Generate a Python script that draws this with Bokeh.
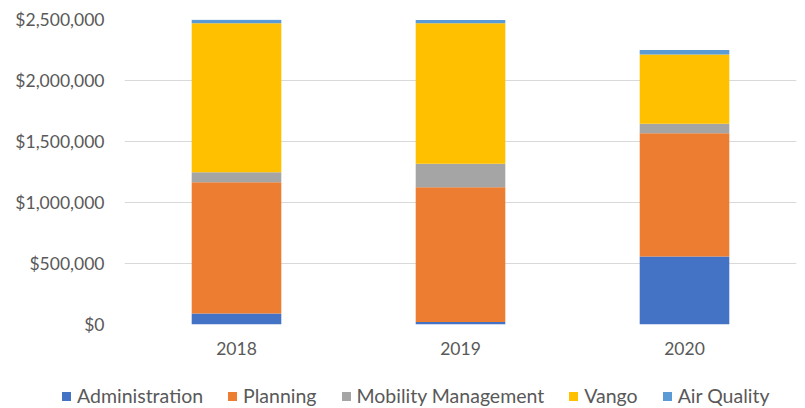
from bokeh.plotting import figure
from bokeh.layouts import column
from bokeh.models import Range1d, FactorRange, NumeralTickFormatter, FixedTicker, Div
from bokeh.embed import file_html
from bokeh.resources import INLINE

years = ["2018", "2019", "2020"]
series = ["Administration", "Planning", "Mobility Management", "Vango", "Air Quality"]
administration = [90000, 20000, 557000]
planning = [1076000, 1105000, 1011000]
mobility = [82000, 192000, 77000]
vango = [1222000, 1153000, 568000]
air_quality = [28000, 25000, 37000]
colors = ["#4472C4", "#ED7D31", "#A5A5A5", "#FFC000", "#5B9BD5"]
y_ticks = [0, 500000, 1000000, 1500000, 2000000, 2500000]

FONT = "Lato"
TXT = "#595959"
FS = "17.5px"

data = dict(years=years)
keys = ["administration", "planning", "mobility", "vango", "air_quality"]
for k, v in zip(keys, [administration, planning, mobility, vango, air_quality]):
    data[k] = v

p = figure(frame_width=672, frame_height=305, x_range=FactorRange(*years, range_padding=0),
           y_range=Range1d(0, 2500000), output_backend="svg", toolbar_location=None,
           min_border_left=124, min_border_right=1, min_border_top=19, min_border_bottom=60)
p.outline_line_color = None

renderers = p.vbar_stack(keys, x="years", width=0.4, color=colors, source=data, line_color=None)

p.yaxis.ticker = FixedTicker(ticks=y_ticks)
p.yaxis.formatter = NumeralTickFormatter(format="$0,0")
for ax in (p.xaxis, p.yaxis):
    ax.axis_line_color = None
    ax.major_tick_line_color = None
    ax.minor_tick_line_color = None
    ax.major_tick_out = 0
    ax.major_tick_in = 0
    ax.major_label_text_font = FONT
    ax.major_label_text_font_size = FS
    ax.major_label_text_color = TXT
p.yaxis.major_label_standoff = 20
p.xaxis.major_label_standoff = 17
p.xgrid.grid_line_color = None
p.ygrid.grid_line_color = "#D9D9D9"
p.ygrid.grid_line_width = 1

# legend strip below the chart
parts = []
for i, (s, c) in enumerate(zip(series, colors)):
    ml = "0px" if i == 0 else "25px"
    parts.append(
        f'<div style="display:flex;align-items:center;margin-left:{ml}">'
        f'<span style="display:inline-block;width:9px;height:9px;background:{c};margin-right:6px"></span>'
        f'<span>{s}</span></div>'
    )
html = ('<div style="display:flex;align-items:center;height:24px;padding-left:62px;'
        f'font-family:Lato;font-size:19.5px;color:{TXT};white-space:nowrap">' + "".join(parts) + "</div>")
legend_div = Div(text=html, width=797, height=24, margin=0)

layout = column(p, legend_div, spacing=0)
open("out.html", "w").write(file_html(layout, INLINE))
